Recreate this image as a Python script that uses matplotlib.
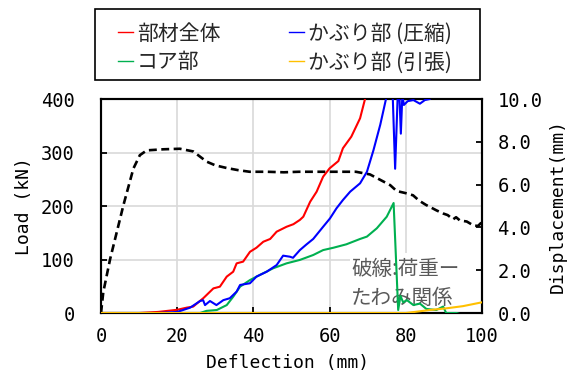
import matplotlib
matplotlib.use("Agg")
import matplotlib.pyplot as plt
from matplotlib.lines import Line2D
from matplotlib.patches import Rectangle
from matplotlib.font_manager import FontProperties

# Load - deflection relationship (left axis, kN)
load_defl = [0, 0.6, 2.4, 5.9, 8.5, 10.2, 12, 16.4, 20.7, 24.2, 27.7, 30, 33, 36,
             39, 43.5, 48, 52, 56, 60, 63, 66.9, 70.6, 73, 75.9, 77.6, 80, 81.9,
             83.5, 85.3, 86.4, 88, 89.8, 91, 92.4, 93.2, 94.2, 96, 97.9, 99, 99.7, 100]
load_kn = [0, 39, 101, 202, 270, 295, 304, 306, 307, 302, 283, 276, 271, 267,
           264, 264, 263, 264, 264, 264, 264, 264, 259, 250, 239, 228, 224, 220,
           210, 202, 198, 192, 186, 183, 175, 179, 173, 171, 163, 163, 168, 160]

# Displacements (right axis, mm)
whole_x = [0, 10, 15, 20, 22.5, 24.2, 26.9, 29.5, 31.2, 33, 34.7, 35.6, 37.3, 39.1,
           40.8, 42.6, 44.4, 46.1, 48.7, 50.5, 52.2, 53.1, 54.9, 56.6, 58.3, 60,
           62.3, 63.5, 65.7, 68, 69.3, 70.5]
whole_y = [0, 0, 0.05, 0.15, 0.25, 0.3, 0.7, 1.15, 1.23, 1.7, 1.93, 2.32, 2.4, 2.86,
           3.05, 3.33, 3.46, 3.8, 4.03, 4.15, 4.35, 4.5, 5.2, 5.67, 6.37, 6.76,
           7.1, 7.7, 8.24, 9.1, 10.0, 10.6]

comp_x = [0, 15, 20, 23.4, 26, 26.8, 27.3, 28.6, 30.3, 32.1, 33.8, 35.6, 36.5, 39.1,
          40.8, 43.5, 46.1, 47.8, 49.6, 50.4, 52.2, 53.9, 55.7, 58.3, 60.1, 61.8,
          63.5, 65.4, 68, 69.8, 71.5, 73.3, 74.8, 75.5, 76.5, 77.2, 77.9, 78.3,
          78.7, 79.1, 79.5, 80.5, 82, 83.7, 85, 86.3, 87]
comp_y = [0, 0, 0.05, 0.25, 0.56, 0.6, 0.37, 0.56, 0.37, 0.6, 0.69, 1.0, 1.31, 1.39,
          1.7, 1.93, 2.24, 2.68, 2.63, 2.58, 2.94, 3.2, 3.46, 4.03, 4.42, 4.89,
          5.28, 5.67, 6.06, 6.6, 7.6, 8.8, 10.0, 10.5, 10.5, 6.74, 10.3, 10.3,
          8.38, 10.2, 9.72, 9.9, 9.95, 9.78, 9.95, 10.0, 10.4]

core_x = [0, 26, 27.7, 30.4, 33, 34.7, 36.5, 39.1, 41.7, 45.2, 48.7, 52.2, 55.7,
          58.3, 61, 64.4, 68, 69.8, 72.4, 75, 76.8, 78.0, 78.6, 79.3, 80.3, 82,
          83.7, 85.4, 88, 89.8, 90.6, 93.3, 94.2]
core_y = [0, 0, 0.1, 0.14, 0.37, 0.76, 1.23, 1.54, 1.78, 2.09, 2.32, 2.48, 2.71,
          2.94, 3.05, 3.21, 3.46, 3.57, 3.96, 4.5, 5.14, 0.14, 0.8, 0.5, 0.6, 0.37,
          0.44, 0.19, 0.14, 0.3, 0.0, 0.0, -0.05]

tens_x = [0, 80, 82.8, 86.3, 90.7, 95, 100]
tens_y = [0, 0, 0.06, 0.14, 0.22, 0.32, 0.5]

labels = ["部材全体", "コア部", "かぶり部 (圧縮)", "かぶり部 (引張)"]
colors = ["#ff0000", "#00b050", "#0000ff", "#ffc000"]

x_ticks = [0, 20, 40, 60, 80, 100]
load_ticks = [0, 100, 200, 300, 400]
disp_ticks = [0, 2, 4, 6, 8, 10]

mono = "DejaVu Sans Mono"
cjk = ["Noto Sans CJK JP", "DejaVu Sans"]
tick_size = 13.5

fig = plt.figure(figsize=(5.74, 3.76), dpi=100)
ax = fig.add_axes([0.17596, 0.16755, 0.66376, 0.56915])
ax.set_xlim(0, 100)
ax.set_ylim(0, 400)
ax.set_xticks(x_ticks)
ax.set_yticks(load_ticks)
ax.grid(True, color="#d9d9d9", linewidth=1.2, zorder=1)
for s in ax.spines.values():
    s.set_linewidth(1.5)
ax.tick_params(axis="both", direction="in", length=4, width=1.3, labelsize=tick_size)
ax.tick_params(axis="y", pad=19)
ax.tick_params(axis="x", pad=10)
for lab in ax.get_xticklabels() + ax.get_yticklabels():
    lab.set_fontfamily(mono)

ax.plot(load_defl, load_kn, color="black", linewidth=1.9, dashes=(3.0, 1.7), zorder=2)

# note box in the lower-right corner
ax.add_patch(Rectangle((0.653, 0.0), 0.347, 0.28, transform=ax.transAxes,
                       facecolor="white", edgecolor="none", zorder=1.8))
ax.text(0.656, 0.258, "破線:荷重ー\nたわみ関係", transform=ax.transAxes,
        ha="left", va="top", fontsize=14.8, family=cjk, color="#595959",
        linespacing=1.45, zorder=3)

ax.set_xlabel("Deflection (mm)", fontsize=13, family=mono)
ax.xaxis.set_label_coords(0.49, -0.19)
ax.set_ylabel("Load (kN)", fontsize=13, family=mono)
ax.yaxis.set_label_coords(-0.178, 0.5)

ax2 = ax.twinx()
ax2.set_ylim(0, 10)
ax2.set_yticks(disp_ticks)
ax2.set_yticklabels([f"{v:.1f}" for v in disp_ticks])
ax2.tick_params(axis="y", direction="in", length=4, width=1.3, labelsize=tick_size, pad=11)
for lab in ax2.get_yticklabels():
    lab.set_fontfamily(mono)
for s in ax2.spines.values():
    s.set_linewidth(1.5)
ax2.set_ylabel("Displacement(mm)", fontsize=13, family=mono)
ax2.yaxis.set_label_coords(1.175, 0.5)

series = [(whole_x, whole_y), (core_x, core_y), (comp_x, comp_y), (tens_x, tens_y)]
order = [0, 2, 1, 3]
for i in order:
    xs, ys = series[i]
    ax2.plot(xs, ys, color=colors[i], linewidth=1.5, zorder=3 + i)

# legend with a separate frame
handles = [Line2D([], [], color=c, linewidth=1.0) for c in colors]
fig.legend(handles, labels, ncol=2, frameon=False, loc="center",
           bbox_to_anchor=(285 / 574, 1 - 48 / 376),
           prop=FontProperties(family="Noto Sans CJK JP", size=15),
           handlelength=0.72, handletextpad=0.2, columnspacing=3.3,
           labelspacing=0.33, labelcolor="#262626")
fig.add_artist(Rectangle((95 / 574, 1 - 80 / 376), 385 / 574, 71 / 376,
                         transform=fig.transFigure, fill=False,
                         edgecolor="black", linewidth=1.2))

fig.savefig("out.png", dpi=100)
